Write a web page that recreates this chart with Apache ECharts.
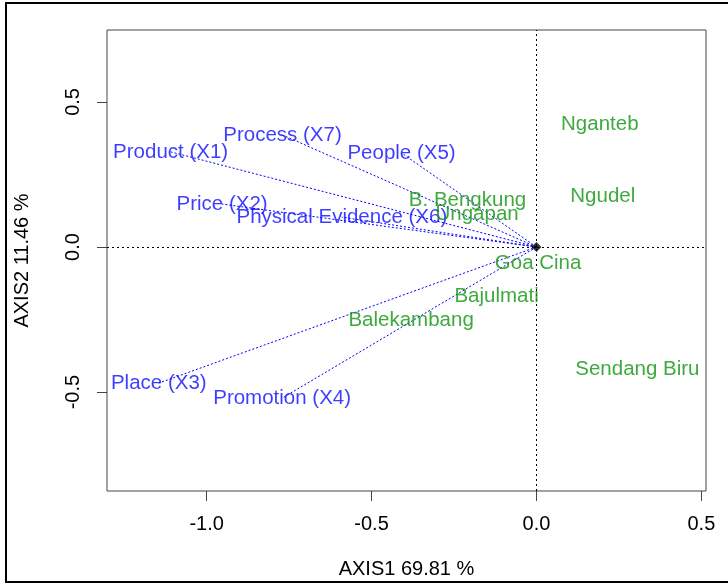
<!DOCTYPE html>
<html>
<head>
<meta charset="utf-8">
<title>Biplot</title>
<script src="https://cdn.jsdelivr.net/npm/echarts@6/dist/echarts.min.js"></script>
<style>
  html, body { margin: 0; padding: 0; background: #fff; }
  #chart { width: 728px; height: 584px; }
</style>
</head>
<body>
<div id="chart"></div>
<script>
// titik lokasi (hijau)
const siteNames = ['Nganteb', 'Ngudel', 'B. Bengkung', 'Ungapan', 'Goa Cina', 'Bajulmati', 'Balekambang', 'Sendang Biru'];
const siteX = [0.192, 0.201, -0.209, -0.180, 0.005, -0.121, -0.380, 0.306];
const siteY = [0.424, 0.176, 0.162, 0.114, -0.055, -0.169, -0.252, -0.421];

// variabel (biru, garis dari titik asal)
const varNames = ['Product (X1)', 'Process (X7)', 'People (X5)', 'Price (X2)', 'Physical Evidence (X6)', 'Place (X3)', 'Promotion (X4)'];
const varX = [-1.109, -0.770, -0.409, -0.953, -0.590, -1.145, -0.771];
const varY = [0.328, 0.386, 0.324, 0.148, 0.103, -0.469, -0.521];

const xTicks = [-1.0, -0.5, 0.0, 0.5];
const yTicks = [-0.5, 0.0, 0.5];
const xTitle = 'AXIS1 69.81 %';
const yTitle = 'AXIS2 11.46 %';

const FONT = 'Liberation Sans, Arial, sans-serif';
const BLUE = '#0c0cff';
const GREEN = '#0e930e';

let chart = echarts.init(document.getElementById('chart'), null, {renderer: 'canvas'});

let series = [];

// garis putus-putus tiap variabel
varNames.forEach((n, i) => {
    series.push({
        type: 'line',
        silent: true,
        symbol: 'none',
        data: [[0, 0], [varX[i], varY[i]]],
        lineStyle: {color: '#0000ff', width: 1, type: [2, 2]},
        z: 2
    });
});

// sumbu nol + titik asal
series.push({
    type: 'scatter',
    silent: true,
    symbol: 'diamond',
    symbolSize: 10,
    itemStyle: {color: '#000'},
    data: [[0, 0]],
    markLine: {
        silent: true,
        symbol: 'none',
        label: {show: false},
        lineStyle: {color: '#000', width: 1, type: [2, 3]},
        data: [{xAxis: 0}, {yAxis: 0}]
    },
    z: 4
});

series.push({
    type: 'scatter',
    silent: true,
    symbolSize: 0,
    data: varNames.map((n, i) => ({name: n, value: [varX[i], varY[i]]})),
    label: {show: true, position: 'inside', formatter: '{b}', color: BLUE, fontSize: 20.5, fontFamily: FONT},
    z: 5
});

series.push({
    type: 'scatter',
    silent: true,
    symbolSize: 0,
    data: siteNames.map((n, i) => ({name: n, value: [siteX[i], siteY[i]]})),
    label: {show: true, position: 'inside', formatter: '{b}', color: GREEN, fontSize: 20.5, fontFamily: FONT},
    z: 5
});

let option = {
    animation: false,
    backgroundColor: '#fff',
    textStyle: {fontFamily: FONT},
    graphic: [{
        type: 'rect',
        shape: {x: 6, y: 3, width: 760, height: 579},
        style: {fill: null, stroke: '#000', lineWidth: 2},
        silent: true
    }],
    grid: {
        left: 107, top: 30, right: 22, bottom: 93,
        outerBoundsMode: 'none',
        containLabel: false,
        show: true, borderColor: '#444', borderWidth: 1, backgroundColor: 'transparent'
    },
    xAxis: {
        type: 'value',
        min: -1.302, max: 0.514,
        name: xTitle,
        nameLocation: 'middle',
        nameGap: 68,
        nameTextStyle: {color: '#000', fontSize: 20, fontFamily: FONT},
        splitLine: {show: false},
        axisLine: {show: false, onZero: false},
        axisTick: {show: true, length: 10, customValues: xTicks, lineStyle: {color: '#444'}},
        axisLabel: {
            customValues: xTicks, margin: 23, color: '#000', fontSize: 20, fontFamily: FONT,
            formatter: v => v.toFixed(1)
        }
    },
    yAxis: {
        type: 'value',
        min: -0.841, max: 0.748,
        name: yTitle,
        nameLocation: 'middle',
        nameGap: 75,
        nameTextStyle: {color: '#000', fontSize: 20, fontFamily: FONT},
        splitLine: {show: false},
        axisLine: {show: false, onZero: false},
        axisTick: {show: true, length: 10, customValues: yTicks, lineStyle: {color: '#444'}},
        axisLabel: {
            customValues: yTicks, margin: 24, rotate: 90, color: '#000', fontSize: 20, fontFamily: FONT,
            formatter: v => v.toFixed(1)
        }
    },
    series: series
};

chart.setOption(option);
</script>
</body>
</html>
